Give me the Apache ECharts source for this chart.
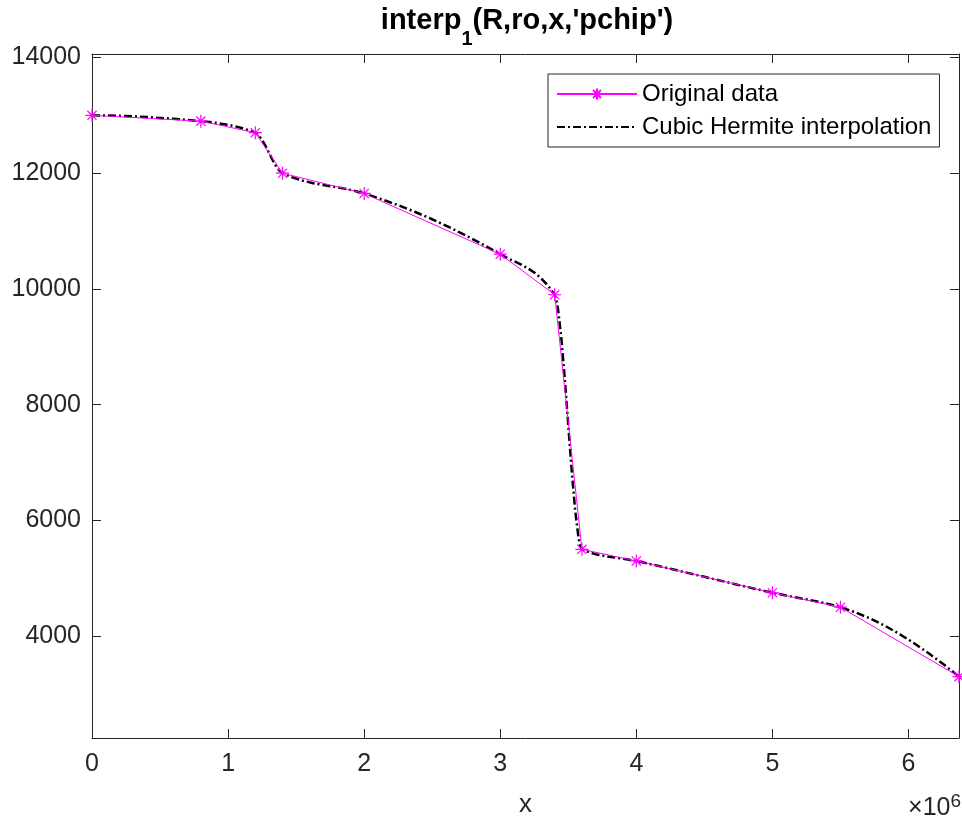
<!DOCTYPE html>
<html>
<head>
<meta charset="utf-8">
<title>interp1 pchip</title>
<script src="https://cdn.jsdelivr.net/npm/echarts@6/dist/echarts.min.js"></script>
<style>
  html, body { margin: 0; padding: 0; background: #fff; }
  #chart { width: 962px; height: 823px; }
</style>
</head>
<body>
<div id="chart"></div>
<script>
// original samples (radius in m, density)
var radius = [0, 800000, 1200000, 1400000, 2000000, 3000000, 3400000, 3600000, 4000000, 5000000, 5500000, 6371000]
var density = [13000, 12900, 12700, 12000, 11650, 10600, 9900, 5500, 5300, 4750, 4500, 3300]

// dash-dot curve
var curveX = [0, 200000, 400000, 600000, 800000, 900000, 1000000, 1050000, 1100000, 1150000,
  1200000, 1225000, 1250000, 1275000, 1300000, 1325000, 1350000, 1375000,
  1400000, 1475000, 1550000, 1625000, 1700000, 1775000, 1850000, 1925000,
  2000000, 2125000, 2250000, 2375000, 2500000, 2625000, 2750000, 2875000,
  3000000, 3050000, 3100000, 3150000, 3200000, 3250000, 3300000, 3350000,
  3400000, 3412500, 3425000, 3450000, 3475000, 3500000, 3525000, 3550000, 3575000, 3587500,
  3600000, 3650000, 3700000, 3800000, 3900000, 4000000, 4250000, 4500000, 4750000,
  5000000, 5125000, 5250000, 5375000,
  5500000, 5609000, 5718000, 5827000, 5936000, 6044000, 6153000, 6262000, 6371000]
var curveY = [13000, 12992, 12971, 12940, 12900, 12875, 12837, 12812, 12781, 12744,
  12700, 12655, 12574, 12471, 12355, 12238, 12132, 12049,
  12000, 11926, 11870, 11828, 11795, 11765, 11735, 11698,
  11650, 11553, 11447, 11330, 11204, 11067, 10921, 10765,
  10600, 10537, 10481, 10425, 10361, 10284, 10185, 10060,
  9900, 9812, 9645, 9122, 8422, 7638, 6861, 6185, 5700, 5559,
  5500, 5452, 5417, 5371, 5340, 5300, 5165, 5025, 4885,
  4750, 4691, 4636, 4576,
  4500, 4413, 4305, 4179, 4034, 3873, 3696, 3505, 3300]

var xTicks = ['0', '1', '2', '3', '4', '5', '6']
var yTicks = [4000, 6000, 8000, 10000, 12000, 14000]

var font = "'Liberation Sans', Arial, Helvetica, sans-serif"
var axisColor = '#262626'

function pairs(xs, ys) {
  return xs.map(function(v, i) { return [v, ys[i]] })
}

var chart = echarts.init(document.getElementById('chart'))

var xBase = {
  type: 'value',
  min: 0,
  max: 6371000,
  interval: 1000000,
  axisLine: { show: true, onZero: false, lineStyle: { color: axisColor, width: 1 } },
  axisTick: { show: true, inside: true, length: 9, lineStyle: { color: axisColor } },
  splitLine: { show: false }
}
var yBase = {
  type: 'value',
  min: 2240,
  max: 14060,
  splitNumber: 6,
  axisLine: { show: true, onZero: false, lineStyle: { color: axisColor, width: 1 } },
  axisTick: { show: true, inside: true, length: 9, lineStyle: { color: axisColor } },
  splitLine: { show: false }
}

var option = {
  backgroundColor: '#fff',
  animation: false,
  grid: { left: 92, top: 54, right: 1, bottom: 84, containLabel: false },
  legend: {
    orient: 'vertical',
    left: 548,
    top: 74,
    padding: [8, 8, 8, 8],
    itemGap: 9,
    itemWidth: 80,
    itemHeight: 14,
    borderColor: axisColor,
    borderWidth: 1,
    borderRadius: 0,
    backgroundColor: '#fff',
    textStyle: { fontFamily: font, fontSize: 24, color: '#000' },
    data: [
      { name: 'Original data' },
      { name: 'Cubic Hermite interpolation', itemStyle: { opacity: 0 } }
    ]
  },
  xAxis: [
    Object.assign({}, xBase, {
      position: 'bottom',
      name: 'x',
      nameLocation: 'middle',
      nameGap: 54,
      nameTextStyle: { fontFamily: font, fontSize: 26, color: axisColor },
      axisLabel: {
        margin: 14,
        fontFamily: font,
        fontSize: 25,
        color: axisColor,
        formatter: function(v) {
          var k = Math.round(v / 1000000)
          return Math.abs(v - k * 1000000) < 1 ? xTicks[k] : ''
        }
      }
    }),
    Object.assign({}, xBase, { position: 'top', axisLabel: { show: false } })
  ],
  yAxis: [
    Object.assign({}, yBase, {
      position: 'left',
      axisLabel: {
        margin: 11,
        fontFamily: font,
        fontSize: 25,
        color: axisColor,
        formatter: function(v) {
          return yTicks.indexOf(v) >= 0 ? String(v) : ''
        }
      }
    }),
    Object.assign({}, yBase, { position: 'right', axisLabel: { show: false } })
  ],
  graphic: [
    {
      // title, centred over the plot box
      type: 'text',
      x: 527,
      y: 6,
      style: {
        text: "{m|interp}{s|1}{m|(R,ro,x,'pchip')}",
        align: 'center',
        rich: {
          m: { fontFamily: font, fontSize: 29, fontWeight: 'bold', fill: '#000', lineHeight: 32, verticalAlign: 'top' },
          s: { fontFamily: font, fontSize: 20, fontWeight: 'bold', fill: '#000', lineHeight: 20, padding: [23, 0, 0, 0], verticalAlign: 'top' }
        }
      }
    },
    {
      type: 'text',
      right: 1,
      top: 792,
      style: {
        text: '×10{sup|6}',
        fontFamily: font,
        fontSize: 25,
        fill: axisColor,
        rich: {
          sup: { fontFamily: font, fontSize: 19, fill: axisColor, padding: [0, 0, 14, 0] }
        }
      }
    }
  ],
  series: [
    {
      name: 'Original data',
      type: 'line',
      xAxisIndex: 0,
      yAxisIndex: 0,
      data: pairs(radius, density),
      symbol: 'path://M0,-10L0,10M-10,0L10,0M-7.07,-7.07L7.07,7.07M-7.07,7.07L7.07,-7.07',
      symbolSize: 13,
      showAllSymbol: true,
      lineStyle: { color: '#FF00FF', width: 1 },
      itemStyle: { color: '#FF00FF', borderColor: '#FF00FF', borderWidth: 1.2 },
      z: 3
    },
    {
      name: 'Cubic Hermite interpolation',
      type: 'line',
      xAxisIndex: 0,
      yAxisIndex: 0,
      data: pairs(curveX, curveY),
      showSymbol: false,
      symbol: 'none',
      lineStyle: { color: '#000', width: 2.5, type: [8, 3, 2, 3] },
      itemStyle: { color: '#000' },
      z: 2
    }
  ]
}

option && chart.setOption(option)
</script>
</body>
</html>
